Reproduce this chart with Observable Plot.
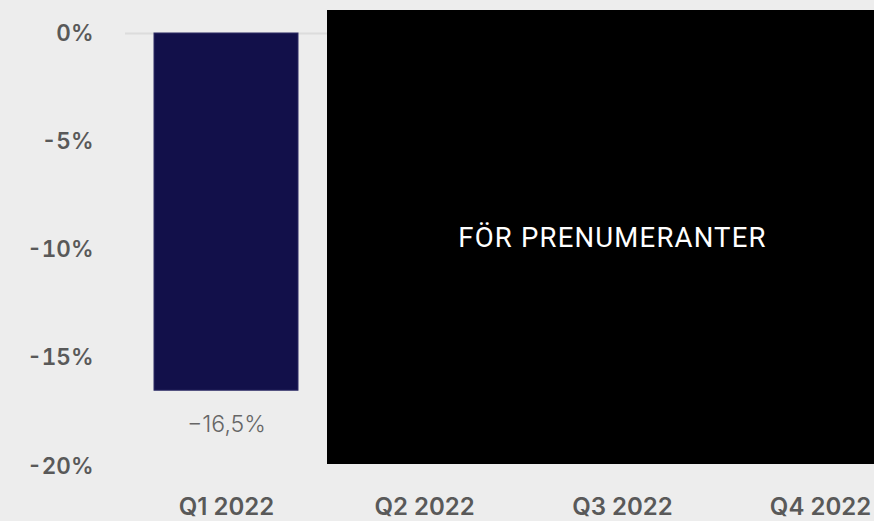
<!DOCTYPE html>
<html><head><meta charset="utf-8">
<script src="https://cdn.jsdelivr.net/npm/d3@7"></script>
<script src="https://cdn.jsdelivr.net/npm/@observablehq/plot@0.6"></script>
<style>
html,body{margin:0;padding:0;background:#ededed;overflow:hidden;width:874px;height:521px}
#wrap{position:relative;width:874px;height:521px;overflow:hidden}
#chart{width:921px}
#chart svg{display:block;max-width:none !important}
#overlay{position:absolute;left:327px;top:10px;width:571px;height:454px;background:#000;color:#fff;display:flex;align-items:center;justify-content:center;font-family:Roboto,sans-serif;font-size:27.5px;font-weight:400;letter-spacing:1.2px}
</style></head><body><div id="wrap"><div id="chart"></div><div id="overlay">FÖR PRENUMERANTER</div></div>
<script>
const quarters = ["Q1 2022", "Q2 2022", "Q3 2022", "Q4 2022"];
const values = [-16.5, null, null, null];
const valueLabels = ["−16,5%", "", "", ""];
const yTicks = [0, -5, -10, -15, -20];
const yTickLabels = ["0%", "-5%", "-10%", "-15%", "-20%"];

const data = quarters.map((q, i) => ({q, v: values[i], label: valueLabels[i]})).filter(d => d.v != null);

const chart = Plot.plot({
  width: 921,
  height: 521,
  marginTop: 33,
  marginBottom: 55,
  marginLeft: 125,
  marginRight: 0,
  style: {background: "transparent", fontFamily: "Inter, 'Open Sans', sans-serif", overflow: "visible", maxWidth: "none"},
  x: {domain: quarters, paddingInner: 0.275, paddingOuter: 0.1415, label: null},
  y: {domain: [-20, 0], label: null},
  marks: [
    Plot.ruleY([0], {stroke: "#dcdcdc", strokeWidth: 2}),
    Plot.barY(data, {x: "q", y: "v", fill: "#12104a", stroke: "#2e2d66", strokeWidth: 1}),
    Plot.text(data, {x: "q", y: "v", text: "label", dy: 34, fontSize: 23, fontWeight: 300, fill: "#666", fontFamily: "Inter, sans-serif"}),
    Plot.axisY(yTicks, {tickSize: 0, tickPadding: 32, tickFormat: d => yTickLabels[yTicks.indexOf(d)], fontSize: 22.5, fontWeight: 600, fill: "#595959", label: null}),
    Plot.axisX({tickSize: 0, tickPadding: 31, fontSize: 24, fontWeight: 600, fill: "#595959", label: null})
  ]
});
document.getElementById("chart").appendChild(chart);
</script>
</body></html>
